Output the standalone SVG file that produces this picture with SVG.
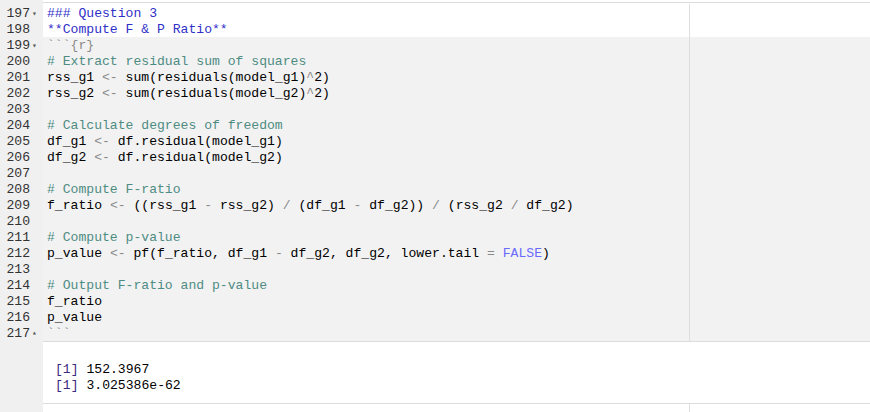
<svg xmlns="http://www.w3.org/2000/svg" width="870" height="412" viewBox="0 0 870 412">
<style>
text{font-family:"Liberation Mono","DejaVu Sans Mono",monospace;font-size:13.1px;fill:#000;white-space:pre}
.ln{fill:#333;text-anchor:end}
.c{fill:#4e8c82}
.h{fill:#3030c8}
.o{fill:#8a8a8a}
.k{fill:#6b6bff}
.b{fill:#3a2a80}
.f{fill:#555;font-size:8px}
</style>
<rect width="870" height="412" fill="#fff"/>
<rect x="0" y="0" width="43" height="412" fill="#f0f0f0"/>
<rect x="43" y="37" width="827" height="304" fill="#f2f2f2"/>
<line x1="43" y1="2.5" x2="870" y2="2.5" stroke="#dcdcdc"/>
<line x1="43" y1="341.5" x2="870" y2="341.5" stroke="#dcdcdc"/>
<line x1="43" y1="403.5" x2="870" y2="403.5" stroke="#dcdcdc"/>
<line x1="689.5" y1="4" x2="689.5" y2="341" stroke="#dedede"/>
<line x1="689.5" y1="404" x2="689.5" y2="412" stroke="#dedede"/>
<g id="gutter">
<text class="ln" x="30" y="17">197</text><text class="f" x="32" y="16">▾</text>
<text class="ln" x="30" y="33">198</text>
<text class="ln" x="30" y="49">199</text><text class="f" x="32" y="48">▾</text>
<text class="ln" x="30" y="65">200</text>
<text class="ln" x="30" y="81">201</text>
<text class="ln" x="30" y="97">202</text>
<text class="ln" x="30" y="113">203</text>
<text class="ln" x="30" y="129">204</text>
<text class="ln" x="30" y="145">205</text>
<text class="ln" x="30" y="161">206</text>
<text class="ln" x="30" y="177">207</text>
<text class="ln" x="30" y="193">208</text>
<text class="ln" x="30" y="209">209</text>
<text class="ln" x="30" y="225">210</text>
<text class="ln" x="30" y="241">211</text>
<text class="ln" x="30" y="257">212</text>
<text class="ln" x="30" y="273">213</text>
<text class="ln" x="30" y="289">214</text>
<text class="ln" x="30" y="305">215</text>
<text class="ln" x="30" y="321">216</text>
<text class="ln" x="30" y="337">217</text><text class="f" x="32" y="335">▴</text>
</g>
<g id="code">
<text class="h" x="47" y="17">### Question 3</text>
<text class="h" x="47" y="33">**Compute F &amp; P Ratio**</text>
<text class="o" x="47" y="49">```{r}</text>
<text class="c" x="47" y="65"># Extract residual sum of squares</text>
<text x="47" y="81">rss_g1 <tspan class="o">&lt;-</tspan> sum(residuals(model_g1)<tspan class="o">^</tspan>2)</text>
<text x="47" y="97">rss_g2 <tspan class="o">&lt;-</tspan> sum(residuals(model_g2)<tspan class="o">^</tspan>2)</text>
<text class="c" x="47" y="129"># Calculate degrees of freedom</text>
<text x="47" y="145">df_g1 <tspan class="o">&lt;-</tspan> df.residual(model_g1)</text>
<text x="47" y="161">df_g2 <tspan class="o">&lt;-</tspan> df.residual(model_g2)</text>
<text class="c" x="47" y="193"># Compute F-ratio</text>
<text x="47" y="209">f_ratio <tspan class="o">&lt;-</tspan> ((rss_g1 <tspan class="o">-</tspan> rss_g2) <tspan class="o">/</tspan> (df_g1 <tspan class="o">-</tspan> df_g2)) <tspan class="o">/</tspan> (rss_g2 <tspan class="o">/</tspan> df_g2)</text>
<text class="c" x="47" y="241"># Compute p-value</text>
<text x="47" y="257">p_value <tspan class="o">&lt;-</tspan> pf(f_ratio, df_g1 <tspan class="o">-</tspan> df_g2, df_g2, lower.tail <tspan class="o">=</tspan> <tspan class="k">FALSE</tspan>)</text>
<text class="c" x="47" y="289"># Output F-ratio and p-value</text>
<text x="47" y="305">f_ratio</text>
<text x="47" y="321">p_value</text>
<text class="o" x="47" y="337">```</text>
</g>
<g id="output">
<text x="55" y="373"><tspan class="b">[1]</tspan> 152.3967</text>
<text x="55" y="389"><tspan class="b">[1]</tspan> 3.025386e-62</text>
</g>
</svg>
